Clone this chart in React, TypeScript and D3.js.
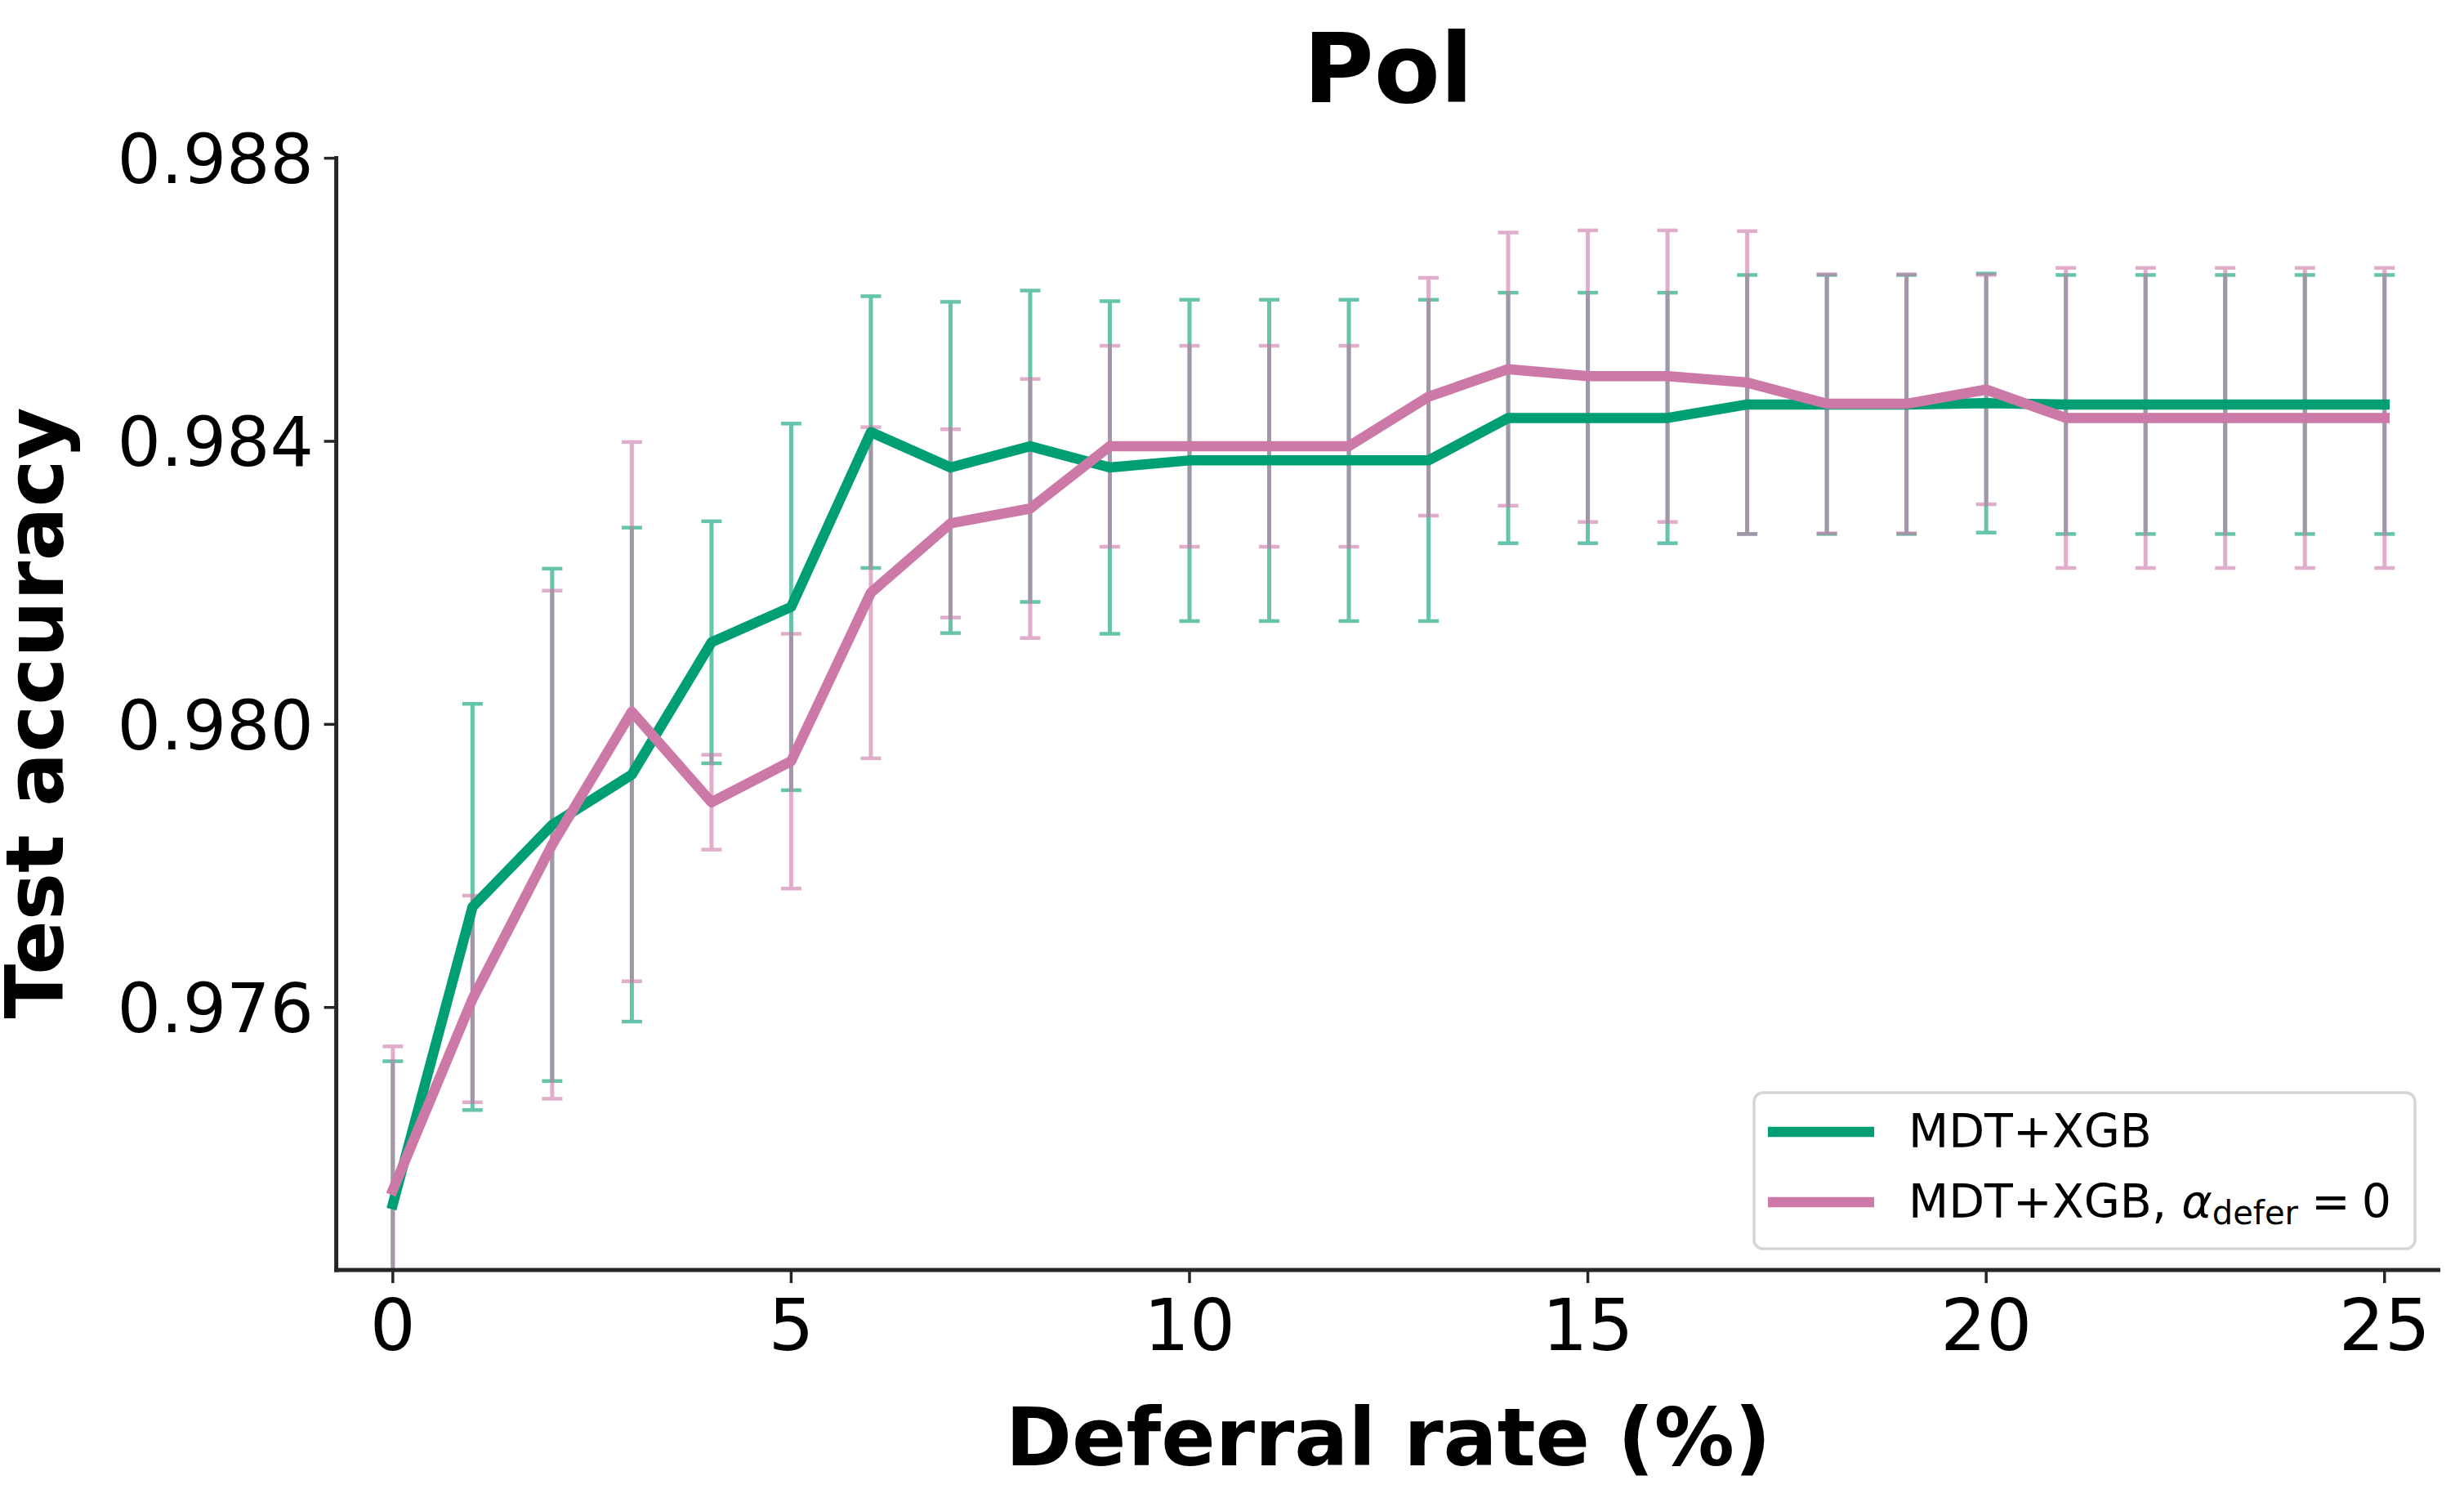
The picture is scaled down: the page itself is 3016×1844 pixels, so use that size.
import * as d3 from "d3";

const WIDTH = 3016;
const HEIGHT = 1844;
const FONT = "DejaVu Sans, Liberation Sans, sans-serif";

// deferral rate (%) on the x axis
const deferralRate = [0, 1, 2, 3, 4, 5, 6, 7, 8, 9, 10, 11, 12, 13, 14, 15, 16, 17, 18, 19, 20, 21, 22, 23, 24, 25];

// MDT+XGB
const mdtMean = [
    0.97322, 0.97742, 0.97858, 0.97929, 0.98116, 0.98166, 0.98413, 0.98363, 0.98393, 0.98363,
    0.98373, 0.98373, 0.98373, 0.98373, 0.98433, 0.98433, 0.98433, 0.98452, 0.98452, 0.98452,
    0.98454, 0.98452, 0.98452, 0.98452, 0.98452, 0.98452,
];
const mdtErr = [
    0.00202, 0.00287, 0.00362, 0.00349, 0.00171, 0.00259, 0.00192, 0.00234, 0.0022, 0.00235,
    0.00227, 0.00227, 0.00227, 0.00227, 0.00177, 0.00177, 0.00177, 0.00183, 0.00183, 0.00183,
    0.00183, 0.00183, 0.00183, 0.00183, 0.00183, 0.00183,
];

// MDT+XGB, alpha_defer = 0
const mdtNoDeferMean = [
    0.97342, 0.97612, 0.9783, 0.98018, 0.9789, 0.97948, 0.98186, 0.98284, 0.98305, 0.98393,
    0.98393, 0.98393, 0.98393, 0.98463, 0.98502, 0.98492, 0.98492, 0.98483, 0.98453, 0.98453,
    0.98473, 0.98433, 0.98433, 0.98433, 0.98433, 0.98433,
];
const mdtNoDeferErr = [
    0.00203, 0.00146, 0.00359, 0.00381, 0.00067, 0.0018, 0.00234, 0.00133, 0.00183, 0.00142,
    0.00142, 0.00142, 0.00142, 0.00168, 0.00193, 0.00206, 0.00206, 0.00214, 0.00183, 0.00183,
    0.00162, 0.00212, 0.00212, 0.00212, 0.00212, 0.00212,
];

const xTicks = [0, 5, 10, 15, 20, 25];
const yTicks = [0.976, 0.98, 0.984, 0.988];

const GREEN = "#009E73";
const PINK = "#CC79A7";

export default function App() {
    // plot area (bounds of the spines)
    const left = 411.6;
    const right = 2987;
    const top = 191;
    const bottom = 1554;

    const xScale = d3.scaleLinear().domain([-0.71, 25.7]).range([left, right]);
    const yScale = d3.scaleLinear().domain([0.97229, 0.98803]).range([bottom, top]);

    const series = [
        { key: "mdt", mean: mdtMean, err: mdtErr, color: GREEN },
        { key: "nodefer", mean: mdtNoDeferMean, err: mdtNoDeferErr, color: PINK },
    ];

    const line = d3
        .line<number>()
        .x((_, i) => xScale(deferralRate[i]))
        .y((d) => yScale(d));

    const CAP = 12.5;

    // error bars first (green under pink), then the mean lines
    const errorBars = series.map((s) => (
        <g key={s.key} opacity={0.6} stroke={s.color}>
            {s.mean.map((m, i) => {
                const x = xScale(deferralRate[i]);
                const y1 = yScale(m + s.err[i]);
                const y2 = yScale(m - s.err[i]);
                return (
                    <g key={i}>
                        <line x1={x} x2={x} y1={y1} y2={y2} strokeWidth={5} />
                        <line x1={x - CAP} x2={x + CAP} y1={y1} y2={y1} strokeWidth={4.5} />
                        <line x1={x - CAP} x2={x + CAP} y1={y2} y2={y2} strokeWidth={4.5} />
                    </g>
                );
            })}
        </g>
    ));

    const meanLines = series.map((s) => (
        <path
            key={s.key}
            d={line(s.mean) || ""}
            fill="none"
            stroke={s.color}
            strokeWidth={12.5}
            strokeLinejoin="round"
            strokeLinecap="square"
        />
    ));

    return (
        <div style={{ position: "absolute", left: 0, top: 0 }}>
            <svg width={WIDTH} height={HEIGHT} style={{ display: "block", background: "#fff" }} fontFamily={FONT}>
                <defs>
                    <clipPath id="plot-area">
                        <rect x={left} y={top} width={right - left} height={bottom - top} />
                    </clipPath>
                </defs>

                <g clipPath="url(#plot-area)">
                    {errorBars}
                    {meanLines}
                </g>

                {/* spines */}
                <line x1={left} x2={left} y1={top} y2={bottom + 2.5} stroke="#262626" strokeWidth={5} />
                <line x1={left - 2.5} x2={right} y1={bottom} y2={bottom} stroke="#262626" strokeWidth={5} />

                {/* y ticks */}
                {yTicks.map((t) => (
                    <g key={t}>
                        <line x1={left - 15} x2={left} y1={yScale(t)} y2={yScale(t)} stroke="#262626" strokeWidth={3.5} />
                        <text x={384} y={yScale(t) + 0.36 * 84} textAnchor="end" fontSize={84} fill="#000">
                            {d3.format(".3f")(t)}
                        </text>
                    </g>
                ))}

                {/* x ticks */}
                {xTicks.map((t) => (
                    <g key={t}>
                        <line x1={xScale(t)} x2={xScale(t)} y1={bottom} y2={bottom + 16} stroke="#262626" strokeWidth={3.5} />
                        <text x={xScale(t)} y={1652} textAnchor="middle" fontSize={88} fill="#000">
                            {t}
                        </text>
                    </g>
                ))}

                {/* title + axis labels */}
                <text x={(left + right) / 2} y={125} textAnchor="middle" fontSize={118} fontWeight="bold">
                    Pol
                </text>
                <text x={(left + right) / 2} y={1793} textAnchor="middle" fontSize={98} fontWeight="bold">
                    Deferral rate (%)
                </text>
                <text
                    transform={`translate(77, ${(top + bottom) / 2}) rotate(-90)`}
                    textAnchor="middle"
                    fontSize={98}
                    fontWeight="bold"
                >
                    Test accuracy
                </text>

                {/* legend */}
                <g>
                    <rect x={2147} y={1337} width={809} height={191} rx={11} fill="#fff" fillOpacity={0.8} stroke="#d6d6d6" strokeWidth={3.5} />
                    <line x1={2164} x2={2294} y1={1385} y2={1385} stroke={GREEN} strokeWidth={12.5} />
                    <line x1={2164} x2={2294} y1={1471} y2={1471} stroke={PINK} strokeWidth={12.5} />
                    <text x={2336} y={1404} fontSize={57}>
                        MDT+XGB
                    </text>
                    <text x={2336} y={1490} fontSize={57}>
                        MDT+XGB,{" "}
                        <tspan fontStyle="italic">α</tspan>
                        <tspan fontSize={40} dy={8}>
                            defer
                        </tspan>
                        <tspan dy={-8} dx={16}>
                            =
                        </tspan>
                        <tspan dx={14}>0</tspan>
                    </text>
                </g>
            </svg>
        </div>
    );
}
